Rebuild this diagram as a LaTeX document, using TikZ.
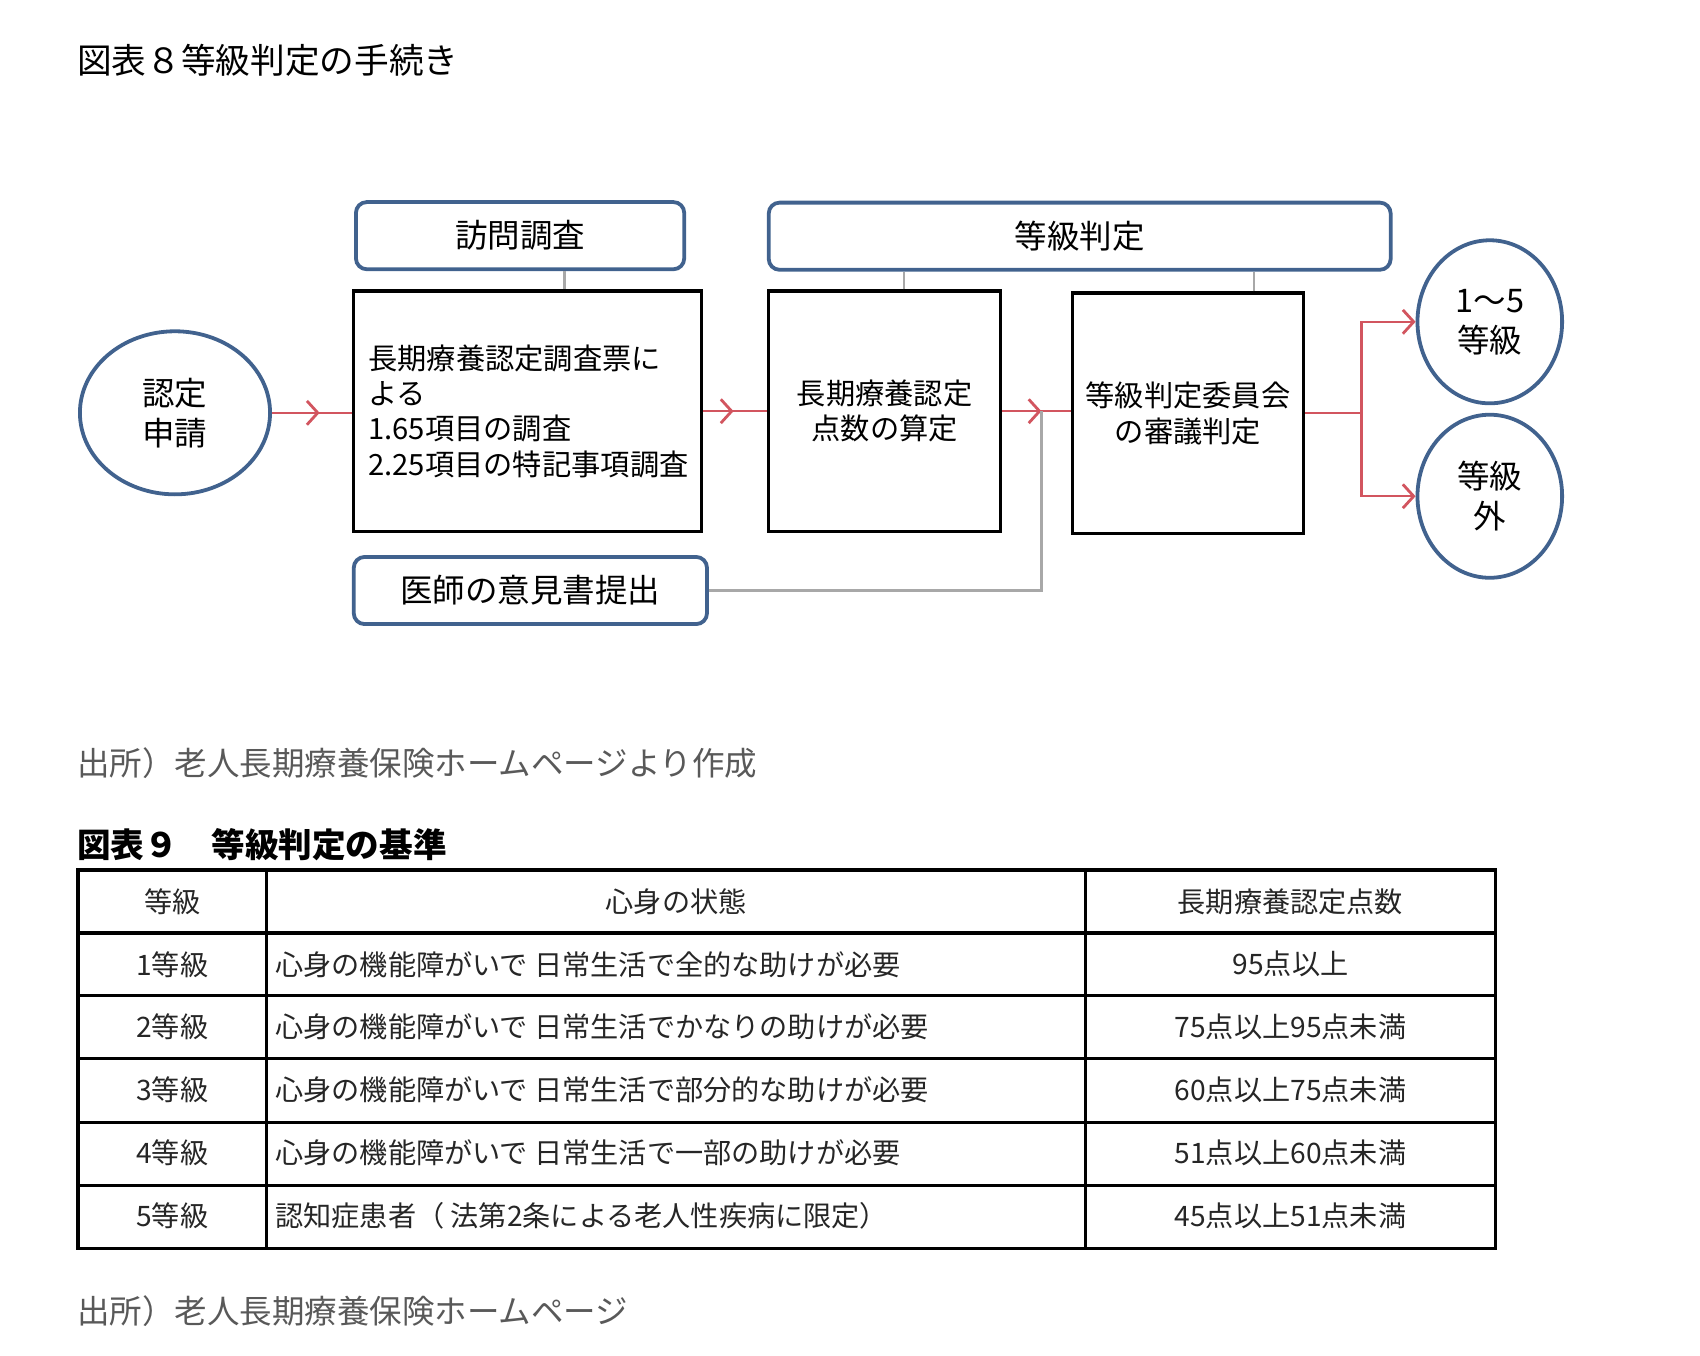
\documentclass[tikz,border=0pt]{standalone}
\usepackage{fontspec}
\setmainfont{Noto Sans CJK JP}
\usetikzlibrary{shapes.geometric}
\usetikzlibrary{arrows.meta, decorations.markings}
\definecolor{frameBlue}{RGB}{65, 98, 142}
\definecolor{flowRed}{RGB}{210, 85, 95}
\definecolor{linkGray}{RGB}{168, 168, 168}
\colorlet{noteGray}{black!65}
\tikzset{
    chevron/.tip={Straight Barb[length=10pt, width=22pt, line width=2.6pt]},
    headbox/.style={draw=frameBlue, line width=3.5pt, rounded corners=10pt, minimum height=62pt, font=\fontsize{30}{36}\selectfont},
    stepbox/.style={draw=black, line width=3pt, minimum height=222pt, align=center, font=\fontsize{27}{32.5}\selectfont},
    endcircle/.style={ellipse, draw=frameBlue, line width=3.5pt, minimum height=150.5pt, align=center, font=\fontsize{30}{37}\selectfont},
    flow/.style={color=flowRed, line width=2pt},
    link/.style={draw=linkGray, line width=2pt},
    midarrow/.style={postaction={decorate}, decoration={markings, mark=at position #1 with {\arrow{chevron}}}},
    note/.style={anchor=west, inner sep=0pt, text=noteGray, font=\fontsize{30}{34}\selectfont},
    tablerule/.style={draw=black, line width=3pt},
    cell/.style={inner sep=0pt, text=black!85, font=\fontsize{26}{30}\selectfont}
}

\begin{document}
\begin{tikzpicture}[x=1pt, y=-1pt]
        \useasboundingbox (0,0) rectangle (1569,1251);

        % Figure 8: the procedure
        \node[anchor=west, inner sep=0pt, font=\fontsize{32}{36}\selectfont] (title8) at (71,56) {図表８等級判定の手続き};

        \node[endcircle, minimum width=175.5pt] (shinsei) at (161.5,381) {認定\\申請};
        \node[headbox, minimum width=303pt] (houmon) at (480,217.5) {訪問調査};
        \node[stepbox, minimum width=321pt, text width=294pt, align=left] (chosa) at (487,379.5)
            {長期療養認定調査票に\\よる\\1.65項目の調査\\2.25項目の特記事項調査};
        \node[headbox, minimum width=326pt] (ishi) at (489.5,545) {医師の意見書提出};
        \node[headbox, minimum width=574pt] (hantei) at (996.5,218) {等級判定};
        \node[stepbox, minimum width=214pt] (santei) at (816.5,379.5) {長期療養認定\\点数の算定};
        \node[stepbox, minimum width=213pt] (shingi) at (1096.5,381.5) {等級判定委員会\\の審議判定};
        \node[endcircle, minimum width=133.5pt] (kyu) at (1375,297) {1〜5\\等級};
        \node[endcircle, minimum width=133.5pt] (gai) at (1375,458) {等級\\外};

        % Gray ties to the headers
        \draw[link] ([xshift=41pt]houmon.south) -- ([xshift=41pt]houmon.south |- chosa.north);
        \draw[link] ([xshift=17.5pt]santei.north) -- ([xshift=17.5pt]santei.north |- hantei.south);
        \draw[link] ([xshift=60.5pt]shingi.north) -- ([xshift=60.5pt]shingi.north |- hantei.south);

        % Red flow
        \draw[flow, midarrow=0.595] (shinsei.east) -- (shinsei.east -| chosa.west);
        \draw[flow, midarrow=0.475] (chosa.east) -- (chosa.east -| santei.west);
        \draw[flow, midarrow=0.57] (santei.east) -- (santei.east -| shingi.west) coordinate[pos=0.57] (goryu);
        \draw[link] (ishi.east) -| (goryu);
        \draw[flow] (shingi.east) -- ++(52,0) coordinate (bunki);
        \draw[flow, -{chevron}] (bunki) |- (kyu.west);
        \draw[flow, -{chevron}] (bunki) |- (gai.west);

        \node[note] (source8) at (71,704) {出所）老人長期療養保険ホームページより作成};

        % Figure 9: the grading table
        \node[anchor=west, inner sep=0pt, font=\bfseries\fontsize{31}{36}\selectfont] (title9) at (71,780) {図表９　等級判定の基準};

        \draw[tablerule] (72,803) rectangle (1380,1152);
        \foreach \y in {861,919,977,1036,1094}
            \draw[tablerule] (72,\y) -- (1380,\y);
        \draw[tablerule] (246,803) -- (246,1152);
        \draw[tablerule] (1002,803) -- (1002,1152);

        \node[cell] (head1) at (159,832) {等級};
        \node[cell] (head2) at (624,832) {心身の状態};
        \node[cell] (head3) at (1191,832) {長期療養認定点数};
        \foreach \grade/\state/\score [count=\i] in {
            1等級/心身の機能障がいで 日常生活で全的な助けが必要/95点以上,
            2等級/心身の機能障がいで 日常生活でかなりの助けが必要/75点以上95点未満,
            3等級/心身の機能障がいで 日常生活で部分的な助けが必要/60点以上75点未満,
            4等級/心身の機能障がいで 日常生活で一部の助けが必要/51点以上60点未満,
            5等級/認知症患者（ 法第2条による老人性疾病に限定）/45点以上51点未満}
        {
            \pgfmathsetmacro\rowy{832+58*\i}
            \node[cell] (grade\i) at (159,\rowy) {\grade};
            \node[cell, anchor=west] (state\i) at (254,\rowy) {\state};
            \node[cell] (score\i) at (1191,\rowy) {\score};
        }

        \node[note] (source9) at (71,1210) {出所）老人長期療養保険ホームページ};
    \end{tikzpicture}
\end{document}
